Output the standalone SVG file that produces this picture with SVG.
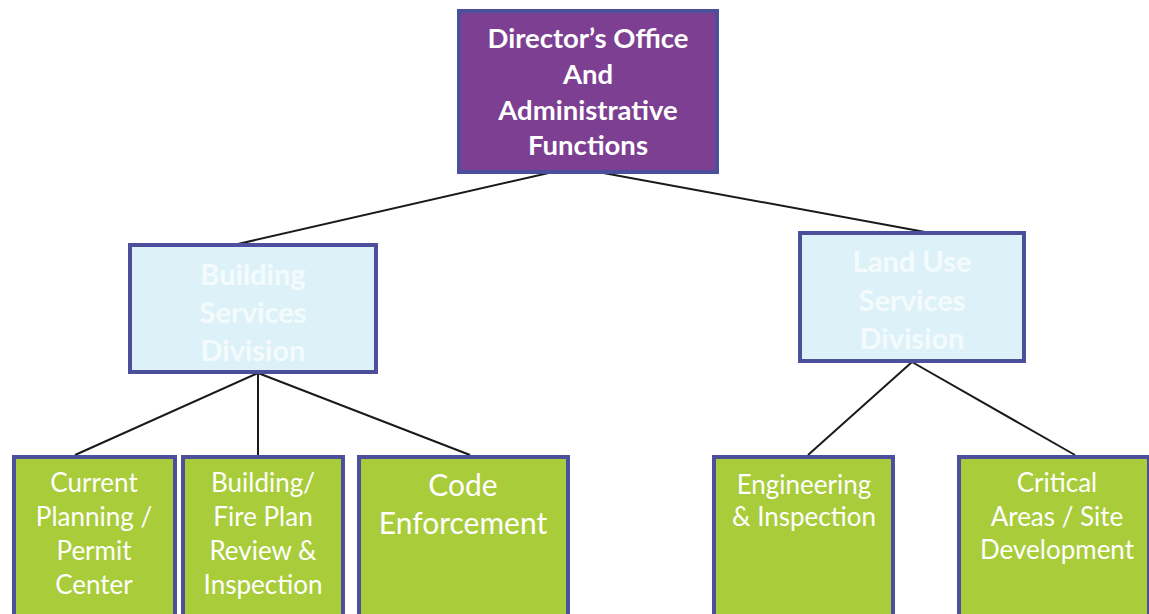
<svg xmlns="http://www.w3.org/2000/svg" width="1149" height="614" viewBox="0 0 1149 614">
<style>
.box{stroke:#4b4f9c;stroke-width:4}
.top{fill:#7d3f92}
.div{fill:#ddf2f8}
.unit{fill:#a8cc3a}
.t{font-family:Lato,"Open Sans","Liberation Sans",sans-serif;fill:#ffffff;text-anchor:middle}
.tb{font-size:27.5px;font-weight:bold}
.td{font-size:29px;font-weight:bold;fill:#f4fbfd}
.tu{font-size:26px}
.tc{font-size:30px}
.ln{stroke:#1a1a1a;stroke-width:2;fill:none}
</style>
<rect width="1149" height="614" fill="#ffffff"/>
<g id="connectors">
<line class="ln" x1="553" y1="172" x2="238" y2="244"/>
<line class="ln" x1="598" y1="172" x2="925" y2="232"/>
<line class="ln" x1="258" y1="373" x2="75" y2="455"/>
<line class="ln" x1="258" y1="373" x2="258" y2="455"/>
<line class="ln" x1="258" y1="373" x2="470" y2="455"/>
<line class="ln" x1="912" y1="362" x2="808" y2="455"/>
<line class="ln" x1="912" y1="362" x2="1075" y2="455"/>
</g>
<g id="director">
<rect class="box top" x="459" y="11" width="258" height="161"/>
<text class="t tb" x="588" y="48">Director’s Office</text>
<text class="t tb" x="588" y="84">And</text>
<text class="t tb" x="588" y="120">Administrative</text>
<text class="t tb" x="588" y="155">Functions</text>
</g>
<g id="building">
<rect class="box div" x="130" y="245" width="246" height="127"/>
<text class="t td" x="253" y="285">Building</text>
<text class="t td" x="253" y="323">Services</text>
<text class="t td" x="253" y="361">Division</text>
</g>
<g id="landuse">
<rect class="box div" x="800" y="233" width="224" height="128"/>
<text class="t td" x="912" y="272">Land Use</text>
<text class="t td" x="912" y="311">Services</text>
<text class="t td" x="912" y="349">Division</text>
</g>
<g id="current">
<rect class="box unit" x="14" y="457" width="161" height="170"/>
<text class="t tu" x="94" y="492">Current</text>
<text class="t tu" x="94" y="526">Planning /</text>
<text class="t tu" x="94" y="560">Permit</text>
<text class="t tu" x="94" y="594">Center</text>
</g>
<g id="fireplan">
<rect class="box unit" x="183" y="457" width="160" height="170"/>
<text class="t tu" x="263" y="492">Building/</text>
<text class="t tu" x="263" y="526">Fire Plan</text>
<text class="t tu" x="263" y="560">Review &amp;</text>
<text class="t tu" x="263" y="594">Inspection</text>
</g>
<g id="code">
<rect class="box unit" x="359" y="457" width="209" height="170"/>
<text class="t tc" x="463" y="496">Code</text>
<text class="t tc" x="463" y="534">Enforcement</text>
</g>
<g id="engineering">
<rect class="box unit" x="714" y="457" width="179" height="170"/>
<text class="t tu" x="804" y="494">Engineering</text>
<text class="t tu" x="804" y="526">&amp; Inspection</text>
</g>
<g id="critical">
<rect class="box unit" x="959" y="457" width="190" height="170"/>
<text class="t tu" x="1057" y="492">Critical</text>
<text class="t tu" x="1057" y="526">Areas / Site</text>
<text class="t tu" x="1057" y="559">Development</text>
</g>
</svg>
